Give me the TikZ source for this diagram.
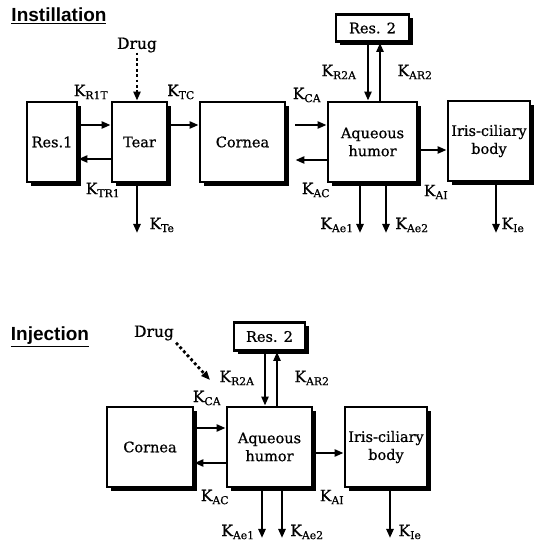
\documentclass[tikz,border=0pt]{standalone}
\usepackage{fontspec}
\setmainfont{DejaVu Serif}[FakeBold=0.7]
\newfontfamily\titlefont{Liberation Sans}
\usetikzlibrary{arrows.meta, shadows, calc, positioning}

\newcommand{\K}[1]{K\textsubscript{#1}}

\begin{document}
\begin{tikzpicture}[x=1pt, y=1pt,
  comp/.style={draw, line width=2.8pt, fill=white, align=center,
               minimum height=80pt, inner sep=0pt,
               drop shadow={shadow xshift=3.6pt, shadow yshift=-3.6pt,
                            fill=black, opacity=1},
               font=\fontsize{14.5}{18}\selectfont},
  flow/.style={-{Triangle[length=9pt,width=7pt]}, line width=2.8pt},
  dose/.style={-{Triangle[length=9pt,width=7pt]}, line width=2.8pt,
               dash pattern=on 2.8pt off 2.6pt},
  rate/.style={font=\fontsize{15.5}{17}\selectfont, inner sep=0pt},
  head/.style={font=\titlefont\bfseries\fontsize{19}{21}\selectfont,
               inner sep=0pt}]
  \useasboundingbox (0,0) rectangle (535,546);

  % Instillation
  \node[head] (inst) at (59,530) {\underline{Instillation}};
  \node[comp, minimum width=50pt] (res1) at (52,404) {Res.1};
  \node[comp, minimum width=55pt] (tear) at (139.5,404) {Tear};
  \node[comp, minimum width=85pt] (corn) at (242.5,404) {Cornea};
  \node[comp, minimum width=89pt] (aq) at (372.5,404) {Aqueous\\humor};
  \node[comp, minimum width=82pt] (iris) at (489,405) {Iris-ciliary\\body};
  \node[comp, minimum width=73pt, minimum height=27pt] (res2) at (372.5,518) {Res. 2};
  \node[rate] (drug) at (137,501) {Drug};
  \coordinate (teOut) at (137,313);
  \coordinate (ae1Out) at (360,313);
  \coordinate (ae2Out) at (386,313);
  \coordinate (ieOut) at (496,313);

  \draw[dose] (drug.south) -- (drug.south |- tear.north);
  \draw[flow] ([yshift=17pt]res1.east) -- ([yshift=17pt]tear.west);
  \draw[flow] ([yshift=-17pt]tear.west) -- ([yshift=-17pt]res1.east);
  \draw[flow] ([yshift=17pt]tear.east) -- ([yshift=17pt]corn.west);
  \draw[flow, shorten <=9pt] ([yshift=17pt]corn.east) -- ([yshift=17pt]aq.west);
  \draw[flow, shorten >=9pt] ([yshift=-18pt]aq.west) -- ([yshift=-18pt]corn.east);
  \draw[flow] ([yshift=-8pt]aq.east) -- ([yshift=-9pt]iris.west);
  \draw[flow] ([xshift=-4.5pt]res2.south) -- ([xshift=-4.5pt]aq.north);
  \draw[flow] ([xshift=7.5pt]aq.north) -- ([xshift=7.5pt]res2.south);
  \draw[flow] ([xshift=-2.5pt]tear.south) -- (teOut);
  \draw[flow] ([xshift=-12.5pt]aq.south) -- (ae1Out);
  \draw[flow] ([xshift=13.5pt]aq.south) -- (ae2Out);
  \draw[flow] ([xshift=7pt]iris.south) -- (ieOut);

  \node[rate] (kR1T) at (91,454) {\K{R1T}};
  \node[rate] (kTC) at (181,454) {\K{TC}};
  \node[rate] (kTR1) at (103,356) {\K{TR1}};
  \node[rate] (kTe) at (162,321) {\K{Te}};
  \node[rate] (kCA) at (307,451) {\K{CA}};
  \node[rate] (kR2A) at (339,474) {\K{R2A}};
  \node[rate] (kAR2) at (415,474) {\K{AR2}};
  \node[rate] (kAC) at (316,356) {\K{AC}};
  \node[rate] (kAI) at (436,354) {\K{AI}};
  \node[rate] (kAe1) at (337,321) {\K{Ae1}};
  \node[rate] (kAe2) at (412,321) {\K{Ae2}};
  \node[rate] (kIe) at (513,321) {\K{Ie}};

  % Injection
  \node[head] (inj) at (50,209) {\underline{Injection}};
  \node[comp, minimum width=86pt] (cornB) at (150,99) {Cornea};
  \node[comp, minimum width=85pt] (aqB) at (269.5,99) {Aqueous\\humor};
  \node[comp, minimum width=82pt] (irisB) at (386,99) {Iris-ciliary\\body};
  \node[comp, minimum width=71pt, minimum height=28pt] (res2B) at (269.5,209.5) {Res. 2};
  \node[rate] (drugB) at (154,213) {Drug};
  \coordinate (injAt) at (210,166);
  \coordinate (ae1OutB) at (262,8);
  \coordinate (ae2OutB) at (282,8);
  \coordinate (ieOutB) at (390,8);

  \draw[dose, shorten <=3pt] (drugB.south east) -- (injAt);
  \draw[flow] ([yshift=19pt]cornB.east) -- ([yshift=19pt]aqB.west);
  \draw[flow] ([yshift=-16pt]aqB.west) -- ([yshift=-16pt]cornB.east);
  \draw[flow] ([yshift=-6pt]aqB.east) -- ([yshift=-6pt]irisB.west);
  \draw[flow] ([xshift=-4.5pt]res2B.south) -- ([xshift=-4.5pt]aqB.north);
  \draw[flow] ([xshift=7.5pt]aqB.north) -- ([xshift=7.5pt]res2B.south);
  \draw[flow] ([xshift=-7.5pt]aqB.south) -- (ae1OutB);
  \draw[flow] ([xshift=12.5pt]aqB.south) -- (ae2OutB);
  \draw[flow] ([xshift=4pt]irisB.south) -- (ieOutB);

  \node[rate] (kR2AB) at (237,168) {\K{R2A}};
  \node[rate] (kAR2B) at (312,168) {\K{AR2}};
  \node[rate] (kCAB) at (207,148) {\K{CA}};
  \node[rate] (kACB) at (215,49) {\K{AC}};
  \node[rate] (kAIB) at (332,49) {\K{AI}};
  \node[rate] (kAe1B) at (238,14) {\K{Ae1}};
  \node[rate] (kAe2B) at (307,14) {\K{Ae2}};
  \node[rate] (kIeB) at (410,14) {\K{Ie}};
\end{tikzpicture}
\end{document}
